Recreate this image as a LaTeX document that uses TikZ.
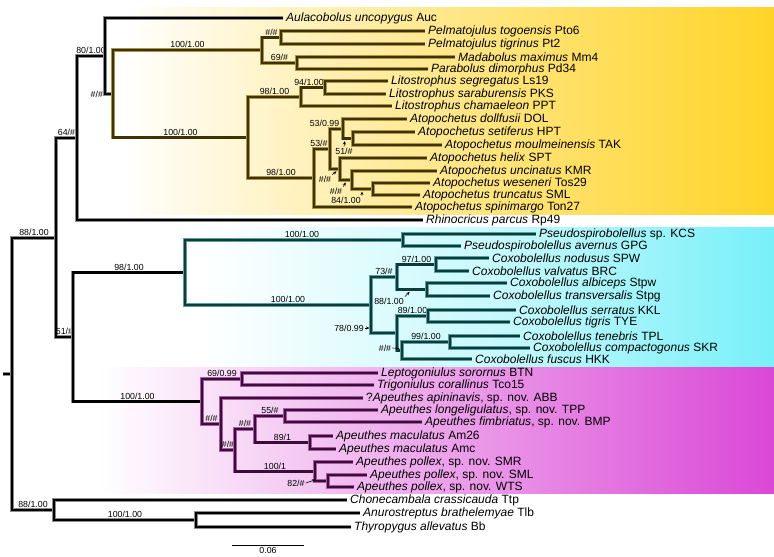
\documentclass[tikz,border=0pt]{standalone}
\usepackage{fontspec}
\setmainfont{Liberation Sans}
\usetikzlibrary{arrows.meta,calc}

\definecolor{yband}{RGB}{255,212,40}
\definecolor{cband}{RGB}{120,240,248}
\definecolor{mband}{RGB}{218,72,214}
\definecolor{ytree}{RGB}{62,50,4}
\definecolor{yhalo}{RGB}{170,148,70}
\definecolor{ctree}{RGB}{14,58,58}
\definecolor{chalo}{RGB}{90,160,160}
\definecolor{mtree}{RGB}{60,12,58}
\definecolor{mhalo}{RGB}{165,95,160}

\tikzset{
  branch/.style={line width=2.2pt},
  kbr/.style={branch, draw=black, preaction={draw=black!45, line width=3.6pt}},
  ybr/.style={branch, draw=ytree, preaction={draw=yhalo, line width=3.6pt}},
  cbr/.style={branch, draw=ctree, preaction={draw=chalo, line width=3.6pt}},
  mbr/.style={branch, draw=mtree, preaction={draw=mhalo, line width=3.6pt}},
  tip/.style={anchor=west, inner xsep=3pt, inner ysep=0pt, font=\fontsize{12}{13}\selectfont},
  sup/.style={font=\fontsize{8.8}{10}\selectfont, inner sep=1pt},
  ptr/.style={-{Stealth[length=3.5pt,width=3pt]}, line width=0.6pt, shorten >=0.5pt},
}

\begin{document}
\begin{tikzpicture}[x=1pt, y=-1pt]
\useasboundingbox (0,0) rectangle (774,557);

% clade bands
\shade[left color=white, right color=yband, middle color=yband!55] (120,7) rectangle (774,214);
\shade[left color=white, right color=cband, middle color=cband!40] (200,227) rectangle (774,367);
\shade[left color=white, right color=mband, middle color=mband!50] (100,367) rectangle (774,493);

% internal nodes
\coordinate (rootstub) at (3,374);
\coordinate (root) at (12,374);
\coordinate (ing) at (56,238);
\coordinate (n64) at (77,138);
\coordinate (n80) at (105,56);
\coordinate (nh1) at (113,94);
\coordinate (n100a) at (262,50);
\coordinate (nh2) at (281,37.5);
\coordinate (n69) at (297,63);
\coordinate (n100b) at (248,137.5);
\coordinate (n98a) at (301,97);
\coordinate (n94) at (325,87.5);
\coordinate (n98b) at (314,178);
\coordinate (n53a) at (330,149);
\coordinate (n53b) at (343,129);
\coordinate (n51) at (353,138.5);
\coordinate (nh3) at (340,169);
\coordinate (nh4) at (352,180);
\coordinate (n84) at (373,189);
\coordinate (n51b) at (73,337);
\coordinate (cy) at (185,272.5);
\coordinate (pse) at (403,240);
\coordinate (cox) at (371,305);
\coordinate (n73) at (397,277);
\coordinate (n97) at (436,264.5);
\coordinate (n88c) at (427,289.5);
\coordinate (n78) at (397,333);
\coordinate (n89) at (428,316);
\coordinate (nh5) at (402,350.5);
\coordinate (n99) at (450,342);
\coordinate (mg) at (202,401.5);
\coordinate (n69b) at (242,379);
\coordinate (nh6) at (221,424);
\coordinate (nh7) at (235,450);
\coordinate (nh8) at (255,429);
\coordinate (n55) at (285,416);
\coordinate (n89b) at (310,442.5);
\coordinate (n100c) at (315,471.5);
\coordinate (n82) at (328,481);
\coordinate (n88o) at (54,510);
\coordinate (n100d) at (196,520);

% tips
\node[tip] (auc) at (283,18) {\textit{Aulacobolus uncopygus} Auc};
\node[tip] (pto) at (425,31) {\textit{Pelmatojulus togoensis} Pto6};
\node[tip] (pt) at (425,44) {\textit{Pelmatojulus tigrinus} Pt2};
\node[tip] (mm) at (455,57) {\textit{Madabolus maximus} Mm4};
\node[tip] (pd) at (428,69) {\textit{Parabolus dimorphus} Pd34};
\node[tip] (ls) at (388,81) {\textit{Litostrophus segregatus} Ls19};
\node[tip] (pks) at (386,94) {\textit{Litostrophus saraburensis} PKS};
\node[tip] (ppt) at (392,106) {\textit{Litostrophus chamaeleon} PPT};
\node[tip] (dol) at (407,119) {\textit{Atopochetus dollfusii} DOL};
\node[tip] (hpt) at (415,132) {\textit{Atopochetus setiferus} HPT};
\node[tip] (tak) at (442,145) {\textit{Atopochetus moulmeinensis} TAK};
\node[tip] (spt) at (427,158) {\textit{Atopochetus helix} SPT};
\node[tip] (kmr) at (437,171) {\textit{Atopochetus uncinatus} KMR};
\node[tip] (tos) at (430,183) {\textit{Atopochetus weseneri} Tos29};
\node[tip] (smla) at (420,195) {\textit{Atopochetus truncatus} SML};
\node[tip] (ton) at (412,207) {\textit{Atopochetus spinimargo} Ton27};
\node[tip] (rp) at (423,220) {\textit{Rhinocricus parcus} Rp49};

\node[tip] (kcs) at (536,234) {\textit{Pseudospirobolellus} sp. KCS};
\node[tip] (gpg) at (461,246) {\textit{Pseudospirobolellus avernus} GPG};
\node[tip] (spw) at (489,258) {\textit{Coxobolellus nodusus} SPW};
\node[tip] (brc) at (469,271) {\textit{Coxobolellus valvatus} BRC};
\node[tip] (stpw) at (507,283) {\textit{Coxobolellus albiceps} Stpw};
\node[tip] (stpg) at (490,296) {\textit{Coxobolellus transversalis} Stpg};
\node[tip] (kkl) at (516,310) {\textit{Coxobolellus serratus} KKL};
\node[tip] (tye) at (510,322) {\textit{Coxobolellus tigris} TYE};
\node[tip] (tpl) at (520,336) {\textit{Coxobolellus tenebris} TPL};
\node[tip] (skr) at (530,348) {\textit{Coxobolellus compactogonus} SKR};
\node[tip] (hkk) at (472,359) {\textit{Coxobolellus fuscus} HKK};

\node[tip] (btn) at (378,373) {\textit{Leptogoniulus sorornus} BTN};
\node[tip] (tco) at (374,385) {\textit{Trigoniulus corallinus} Tco15};
\node[tip] (abb) at (363,398) {?\textit{Apeuthes apininavis}, sp. nov. ABB};
\node[tip] (tpp) at (378,410) {\textit{Apeuthes longeligulatus}, sp. nov. TPP};
\node[tip] (bmp) at (422,422) {\textit{Apeuthes fimbriatus}, sp. nov. BMP};
\node[tip] (am26) at (333,436) {\textit{Apeuthes maculatus} Am26};
\node[tip] (amc) at (336,449) {\textit{Apeuthes maculatus} Amc};
\node[tip] (smr) at (353,462) {\textit{Apeuthes pollex}, sp. nov. SMR};
\node[tip] (smlb) at (367,475) {\textit{Apeuthes pollex}, sp. nov. SML};
\node[tip] (wts) at (354,487) {\textit{Apeuthes pollex}, sp. nov. WTS};

\node[tip] (ttp) at (347,500) {\textit{Chonecambala crassicauda} Ttp};
\node[tip] (tlb) at (360,513) {\textit{Anurostreptus brathelemyae} Tlb};
\node[tip] (bb) at (351,527) {\textit{Thyropygus allevatus} Bb};

% backbone
\draw[kbr] (rootstub) -- (root);
\draw[kbr] (root) |- node[sup, above, pos=.75] (s88a) {88/1.00} (ing);
\draw[kbr] (root) |- node[sup, above, pos=.75] (s88o) {88/1.00} (n88o);
\draw[kbr] (ing) |- node[sup, above, pos=.75] (s64) {64/\#} (n64);
\draw[kbr] (ing) |- node[sup, above, pos=.75] (s51b) {51/\#} (n51b);
\draw[kbr] (n64) |- node[sup, above, pos=.75] (s80) {80/1.00} (n80);
\draw[kbr] (n64) |- (rp.west);
\draw[kbr] (n80) |- (auc.west);
\draw[kbr] (n80) |- node[sup, left, pos=.5] (sh1) {\#/\#} (nh1);

% yellow clade
\draw[ybr] (nh1) |- node[sup, above, pos=.75] (s100a) {100/1.00} (n100a);
\draw[ybr] (nh1) |- node[sup, above, pos=.75] (s100b) {100/1.00} (n100b);
\draw[ybr] (n100a) |- node[sup, above, pos=.75] (sh2) {\#/\#} (nh2);
\draw[ybr] (n100a) |- node[sup, above, pos=.75] (s69) {69/\#} (n69);
\draw[ybr] (nh2) |- (pto.west);
\draw[ybr] (nh2) |- (pt.west);
\draw[ybr] (n69) |- (mm.west);
\draw[ybr] (n69) |- (pd.west);
\draw[ybr] (n100b) |- node[sup, above, pos=.75] (s98a) {98/1.00} (n98a);
\draw[ybr] (n100b) |- node[sup, above, pos=.75] (s98b) {98/1.00} (n98b);
\draw[ybr] (n98a) |- node[sup, above, pos=.75, xshift=-4pt] (s94) {94/1.00} (n94);
\draw[ybr] (n98a) |- (ppt.west);
\draw[ybr] (n94) |- (ls.west);
\draw[ybr] (n94) |- (pks.west);
\draw[ybr] (n98b) |- node[sup, above, pos=.75, xshift=-3pt] (s53a) {53/\#} (n53a);
\draw[ybr] (n98b) |- (ton.west);
\draw[ybr] (n53a) |- node[sup, above, pos=.75, xshift=-12pt] (s53b) {53/0.99} (n53b);
\draw[ybr] (n53a) |- (nh3);
\draw[ybr] (n53b) |- (dol.west);
\draw[ybr] (n53b) |- (n51);
\draw[ybr] (n51) |- (hpt.west);
\draw[ybr] (n51) |- (tak.west);
\draw[ybr] (nh3) |- (spt.west);
\draw[ybr] (nh3) |- (nh4);
\draw[ybr] (nh4) |- (kmr.west);
\draw[ybr] (nh4) |- (n84);
\draw[ybr] (n84) |- (tos.west);
\draw[ybr] (n84) |- (smla.west);

\node[sup] (s51) at (344,151) {51/\#};
\draw[ptr] (s51.north) -- ($(n51)+(-8,2)$);
\node[sup] (sh3) at (325,179) {\#/\#};
\draw[ptr] (sh3.north east) -- ($(nh3)+(-3,2)$);
\node[sup] (sh4) at (336,191) {\#/\#};
\draw[ptr] (sh4.north east) -- ($(nh4)+(-6,2)$);
\node[sup] (s84) at (346,200) {84/1.00};
\draw[ptr] (s84.north east) -- ($(n84)+(-11,2)$);

% cyan clade
\draw[kbr] (n51b) |- node[sup, above, pos=.75] (s98c) {98/1.00} (cy);
\draw[kbr] (n51b) |- node[sup, above, pos=.75] (s100m) {100/1.00} (mg);
\draw[cbr] (cy) |- node[sup, above, pos=.75, xshift=8pt] (s100p) {100/1.00} (pse);
\draw[cbr] (cy) |- node[sup, above, pos=.75, xshift=10pt] (s100x) {100/1.00} (cox);
\draw[cbr] (pse) |- (kcs.west);
\draw[cbr] (pse) |- (gpg.west);
\draw[cbr] (cox) |- node[sup, above, pos=.75] (s73) {73/\#} (n73);
\draw[cbr] (cox) |- (n78);
\draw[cbr] (n73) |- node[sup, above, pos=.75] (s97) {97/1.00} (n97);
\draw[cbr] (n73) |- (n88c);
\draw[cbr] (n97) |- (spw.west);
\draw[cbr] (n97) |- (brc.west);
\draw[cbr] (n88c) |- (stpw.west);
\draw[cbr] (n88c) |- (stpg.west);
\draw[cbr] (n78) |- node[sup, above, pos=.75] (s89) {89/1.00} (n89);
\draw[cbr] (n78) |- (nh5);
\draw[cbr] (n89) |- (kkl.west);
\draw[cbr] (n89) |- (tye.west);
\draw[cbr] (nh5) |- node[sup, above, pos=.75] (s99) {99/1.00} (n99);
\draw[cbr] (nh5) |- (hkk.west);
\draw[cbr] (n99) |- (tpl.west);
\draw[cbr] (n99) |- (skr.west);

\node[sup] (s88c) at (389,301) {88/1.00};
\draw[ptr] (s88c.north east) -- ($(n88c)+(-17,2)$);
\node[sup] (s78) at (349,328) {78/0.99};
\draw[ptr, shorten >=1.5pt] (s78.east) -- ($(n78)+(-26,-5)$);
\node[sup] (sh5) at (385,348) {\#/\#};
\draw[ptr] (sh5.east) -- ($(nh5)+(-2,-2)$);

% magenta clade
\draw[mbr] (mg) |- node[sup, above, pos=.75] (s69b) {69/0.99} (n69b);
\draw[mbr] (mg) |- node[sup, above, pos=.75] (sh6) {\#/\#} (nh6);
\draw[mbr] (n69b) |- (btn.west);
\draw[mbr] (n69b) |- (tco.west);
\draw[mbr] (nh6) |- (abb.west);
\draw[mbr] (nh6) |- node[sup, above, pos=.75] (sh7) {\#/\#} (nh7);
\draw[mbr] (nh7) |- node[sup, above, pos=.75] (sh8) {\#/\#} (nh8);
\draw[mbr] (nh7) |- node[sup, above, pos=.75] (s100s) {100/1} (n100c);
\draw[mbr] (nh8) |- node[sup, above, pos=.75] (s55) {55/\#} (n55);
\draw[mbr] (nh8) |- node[sup, above, pos=.75] (s89b) {89/1} (n89b);
\draw[mbr] (n55) |- (tpp.west);
\draw[mbr] (n55) |- (bmp.west);
\draw[mbr] (n89b) |- (am26.west);
\draw[mbr] (n89b) |- (amc.west);
\draw[mbr] (n100c) |- (smr.west);
\draw[mbr] (n100c) |- (n82);
\draw[mbr] (n82) |- (smlb.west);
\draw[mbr] (n82) |- (wts.west);

\node[sup] (s82) at (296,483) {82/\#};
\draw[ptr] (s82.east) -- ($(n82)+(-12,-1.5)$);

% outgroup
\draw[kbr] (n88o) |- (ttp.west);
\draw[kbr] (n88o) |- node[sup, above, pos=.75] (s100o) {100/1.00} (n100d);
\draw[kbr] (n100d) |- (tlb.west);
\draw[kbr] (n100d) |- (bb.west);

% scale bar
\coordinate (sbl) at (232,545);
\coordinate (sbr) at (304,545);
\draw[line width=0.9pt] (sbl) -- node[sup, below=1pt] (sbt) {0.06} (sbr);

\end{tikzpicture}
\end{document}
